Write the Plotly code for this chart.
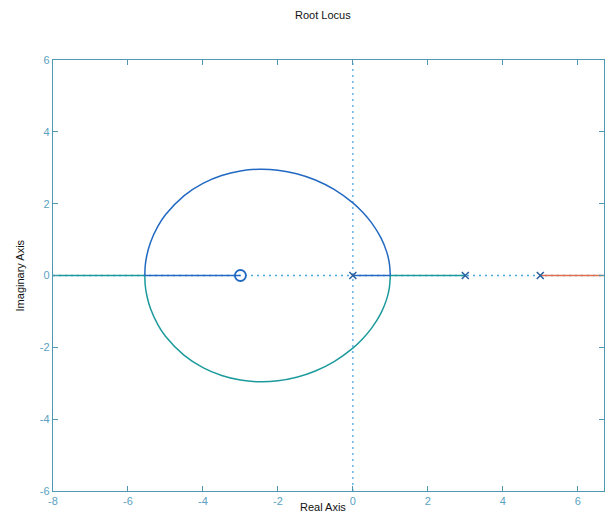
import plotly.graph_objects as go

# Poles and zeros
pole_re = [0, 3, 5]
pole_im = [0, 0, 0]
zero_re = [-3]
zero_im = [0]

# Blue branch: pole 0 -> breakaway 1, upper arc, break-in -5.55 -> zero -3
blue_axis1_re = [0, 1.0]
blue_axis1_im = [0, 0]
blue_arc_re = [1.0, 0.97, 0.9, 0.75, 0.5, 0.25, 0.0, -0.5, -1.0, -1.5, -2.0, -2.5,
               -3.0, -3.5, -4.0, -4.5, -5.0, -5.2, -5.4, -5.5, -5.54, -5.55]
blue_arc_im = [0, 0.365, 0.665, 1.047, 1.466, 1.775, 2.023, 2.398, 2.660, 2.835, 2.933, 2.958,
               2.910, 2.784, 2.565, 2.225, 1.690, 1.374, 0.920, 0.543, 0.265, 0]
blue_axis2_re = [-5.55, -3.0]
blue_axis2_im = [0, 0]

# Green branch: pole 3 -> breakaway 1, lower arc, break-in -5.55 -> -inf
green_axis1_re = [3, 1.0]
green_axis1_im = [0, 0]
green_arc_re = [1.0, 0.97, 0.9, 0.75, 0.5, 0.25, 0.0, -0.5, -1.0, -1.5, -2.0, -2.5,
                -3.0, -3.5, -4.0, -4.5, -5.0, -5.2, -5.4, -5.5, -5.54, -5.55]
green_arc_im = [0, -0.365, -0.665, -1.047, -1.466, -1.775, -2.023, -2.398, -2.660, -2.835, -2.933, -2.958,
                -2.910, -2.784, -2.565, -2.225, -1.690, -1.374, -0.920, -0.543, -0.265, 0]
green_axis2_re = [-5.55, -8.0]
green_axis2_im = [0, 0]

# Red branch: pole 5 -> +inf
red_re = [5, 8]
red_im = [0, 0]

# Dotted axes lines
hline_re = [-8, 8]
hline_im = [0, 0]
vline_re = [0, 0]
vline_im = [-6, 6]

x_ticks = [-8, -6, -4, -2, 0, 2, 4, 6]
y_ticks = [-6, -4, -2, 0, 2, 4, 6]

axis_col = "#4f97b3"
label_col = "#5aa2c0"
dot_col = "#4ea8e0"
blue = "#2169c2"
green = "#1c9a9c"
red = "#e0704e"

fig = go.Figure()
fig.add_trace(go.Scatter(x=hline_re, y=hline_im, mode="lines",
                         line=dict(color=dot_col, width=1.3, dash="2px,4px"), hoverinfo="skip"))
fig.add_trace(go.Scatter(x=vline_re, y=vline_im, mode="lines",
                         line=dict(color=dot_col, width=1.3, dash="2px,4px"), hoverinfo="skip"))

def seg(x, y, col, spline=False):
    fig.add_trace(go.Scatter(x=x, y=y, mode="lines",
                             line=dict(color=col, width=1.5, shape="spline" if spline else "linear",
                                       smoothing=0.8)))

seg(green_axis1_re, green_axis1_im, green)
seg(green_arc_re, green_arc_im, green, True)
seg(green_axis2_re, green_axis2_im, green)
seg(red_re, red_im, red)
seg(blue_axis1_re, blue_axis1_im, blue)
seg(blue_arc_re, blue_arc_im, blue, True)
seg(blue_axis2_re, blue_axis2_im, blue)

fig.add_trace(go.Scatter(x=pole_re, y=pole_im, mode="markers",
                         marker=dict(symbol="x-thin-open", size=7, color="#2a5f9e",
                                     line=dict(width=1.5, color="#2a5f9e"))))
fig.add_trace(go.Scatter(x=zero_re, y=zero_im, mode="markers",
                         marker=dict(symbol="circle-open", size=11, color=blue,
                                     line=dict(width=1.8, color=blue))))

fig.update_layout(
    width=613, height=516,
    margin=dict(l=53, r=9, t=60, b=25),
    paper_bgcolor="white", plot_bgcolor="white",
    showlegend=False,
    font=dict(family="Liberation Sans, Arial, sans-serif", size=11, color=label_col),
    annotations=[
        dict(text="Root Locus", xref="paper", yref="paper", x=0.49, y=1.104,
             xanchor="center", yanchor="middle", showarrow=False,
             font=dict(size=11, color="#111111")),
        dict(text="Real Axis", xref="paper", yref="paper", x=0.49, y=-0.037,
             xanchor="center", yanchor="middle", showarrow=False,
             font=dict(size=11, color="#111111")),
        dict(text="Imaginary Axis", xref="paper", yref="paper", x=-0.06, y=0.5,
             xanchor="center", yanchor="middle", showarrow=False, textangle=-90,
             font=dict(size=11, color="#111111")),
    ],
)
fig.update_xaxes(range=[-8, 6.7], tickvals=x_ticks, ticktext=[str(v) for v in x_ticks],
                 showgrid=False, zeroline=False, showline=True, linecolor=axis_col, linewidth=1.3,
                 mirror="ticks", ticks="inside", ticklen=5, tickcolor=axis_col,
                 tickfont=dict(size=11, color=label_col))
fig.update_yaxes(range=[-6, 6], tickvals=y_ticks, ticktext=[str(v) for v in y_ticks],
                 showgrid=False, zeroline=False, showline=True, linecolor=axis_col, linewidth=1.3,
                 mirror="ticks", ticks="inside", ticklen=5, tickcolor=axis_col,
                 tickfont=dict(size=11, color=label_col))

fig.write_html("out.html")
